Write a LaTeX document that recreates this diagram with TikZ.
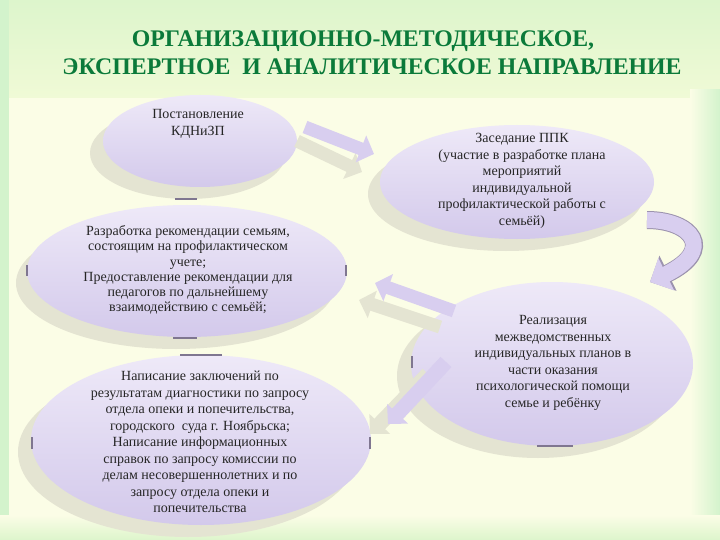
\documentclass[tikz,border=0pt]{standalone}
\usepackage{fontspec}
\setmainfont{Liberation Serif}
\usetikzlibrary{shapes.geometric,arrows.meta}
\definecolor{bgY}{HTML}{FBFDE6}
\definecolor{bgG}{HTML}{DDF5CC}
\definecolor{bgG2}{HTML}{F0FAD6}
\definecolor{stripG}{HTML}{D3F3CC}
\definecolor{lavTop}{HTML}{EEE9F8}
\definecolor{lavBot}{HTML}{D3C9EB}
\definecolor{shadowc}{HTML}{E4E4D2}
\definecolor{arrowc}{HTML}{D8CEEF}
\definecolor{arrowedge}{HTML}{9C93AE}
\definecolor{tickc}{HTML}{7F7690}
\definecolor{titleG}{HTML}{0B7A3A}
\tikzset{
  blob/.style={ellipse, inner sep=0pt, top color=lavTop, bottom color=lavBot, draw=none},
  shade/.style={ellipse, inner sep=0pt, fill=shadowc, draw=none},
  body/.style={align=center, font=\fontsize{14}{16.5}\selectfont, text=black!85},
  ttl/.style={anchor=base, font=\fontsize{23.8}{27}\selectfont\bfseries, text=titleG},
  blockarrow/.style={line width=13pt, draw=arrowc, -{Triangle[length=14pt,width=28pt]}},
  blockshadow/.style={line width=13pt, draw=shadowc, -{Triangle[length=14pt,width=28pt]}},
  tick/.style={draw=tickc, line width=1.1pt}
}
\begin{document}
\begin{tikzpicture}[x=1pt,y=-1pt]
\useasboundingbox (0,0) rectangle (720,540);
% background
\fill[bgY] (0,0) rectangle (720,540);
\shade[top color=bgG, bottom color=bgG2] (0,0) rectangle (720,98);
\fill[stripG] (0,0) rectangle (9,540);
\shade[left color=bgY, right color=stripG] (690,90) rectangle (720,540);
\shade[top color=bgY, bottom color=bgG] (0,515) rectangle (720,540);
% title
\node[ttl] (title1) at (363,47) {ОРГАНИЗАЦИОННО-МЕТОДИЧЕСКОЕ,};
\node[ttl] (title2) at (372,75) {ЭКСПЕРТНОЕ \ И АНАЛИТИЧЕСКОЕ НАПРАВЛЕНИЕ};
% shadows of ellipses
\node[shade, minimum width=196pt, minimum height=92pt] (s1) at (188,153) {};
\node[shade, minimum width=276pt, minimum height=114pt] (s2) at (506,194) {};
\node[shade, minimum width=320pt, minimum height=132pt] (s3) at (176,283) {};
\node[shade, minimum width=282pt, minimum height=164pt] (s4) at (538,376) {};
\node[shade, minimum width=340pt, minimum height=170pt] (s5) at (188,452) {};
% ellipses
\node[blob, minimum width=194pt, minimum height=92pt] (e1) at (200,141) {};
\node[blob, minimum width=274pt, minimum height=114pt] (e2) at (517,182) {};
\node[blob, minimum width=320pt, minimum height=132pt] (e3) at (187,271) {};
\node[blob, minimum width=282pt, minimum height=164pt] (e4) at (552,364) {};
\node[blob, minimum width=340pt, minimum height=170pt] (e5) at (201,440) {};
% arrow end points
\coordinate (a1s) at (297,141); \coordinate (a1t) at (362,172);
\coordinate (a1a) at (305,127); \coordinate (a1b) at (374,154);
\coordinate (a3s) at (440,327); \coordinate (a3t) at (359,300);
\coordinate (a3a) at (454,311); \coordinate (a3b) at (375,283);
\coordinate (a4s) at (428,374); \coordinate (a4t) at (370,434);
\coordinate (a4a) at (446,362); \coordinate (a4b) at (388,424);
\coordinate (c0) at (647,220); \coordinate (c1) at (650,282);
% block arrows with shadows
\draw[blockshadow] (a1s) -- (a1t);
\draw[blockarrow] (a1a) -- (a1b);
\draw[blockshadow] (a3s) -- (a3t);
\draw[blockarrow] (a3a) -- (a3b);
\draw[blockshadow, line width=15pt] (a4s) -- (a4t);
\draw[blockarrow, line width=15pt] (a4a) -- (a4b);
% curved arrow
\draw[line width=18pt, draw=arrowedge, -{Triangle[length=20pt,width=38pt]}]
  (c0) .. controls (692,220) and (716,250) .. (c1);
\draw[line width=16pt, draw=arrowc, -{Triangle[length=18pt,width=35pt]}]
  (c0) .. controls (692,220) and (716,250) .. (c1);
% selection ticks
\draw[tick] (175,199) -- (197,199);
\draw[tick] (173,338) -- (197,338);
\draw[tick] (27,265) -- (27,276);
\draw[tick] (346,265) -- (346,276);
\draw[tick] (180,355) -- (222,355);
\draw[tick] (32,437) -- (32,449);
\draw[tick] (370,437) -- (370,449);
\draw[tick] (412,356) -- (412,368);
\draw[tick] (537,446) -- (573,446);
% texts
\node[body] (t1) at (198,124) {Постановление\\КДНиЗП};
\node[body] (t2) at (522,181) {Заседание ППК\\(участие в разработке плана\\мероприятий\\индивидуальной\\профилактической работы с\\семьёй)};
\node[body, font=\fontsize{14}{15.3}\selectfont] (t3) at (188,270) {Разработка рекомендации семьям,\\состоящим на профилактическом\\учете;\\Предоставление рекомендации для\\педагогов по дальнейшему\\взаимодействию с семьёй;};
\node[body] (t4) at (553,363) {Реализация\\межведомственных\\индивидуальных планов в\\части оказания\\психологической помощи\\семье и ребёнку};
\node[body] (t5) at (200,442) {Написание заключений по\\результатам диагностики по запросу\\отдела опеки и попечительства,\\городского \ суда г. Ноябрьска;\\Написание информационных\\справок по запросу комиссии по\\делам несовершеннолетних и по\\запросу отдела опеки и\\попечительства};
\end{tikzpicture}
\end{document}
